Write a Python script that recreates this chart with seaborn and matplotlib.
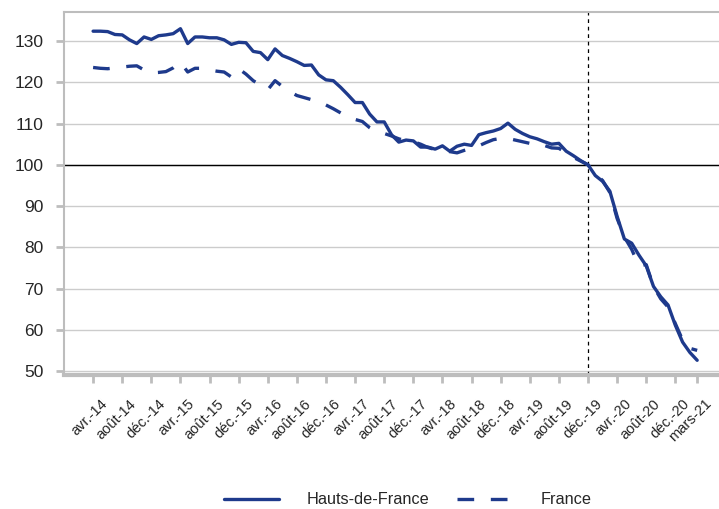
import pandas as pd
import seaborn as sns
import matplotlib.pyplot as plt
from matplotlib.transforms import ScaledTranslation

# Indices mensuels (base 100 = déc.-19), avr.-14 -> mars-21
mois_noms = ["janv.", "févr.", "mars", "avr.", "mai", "juin",
             "juil.", "août", "sept.", "oct.", "nov.", "déc."]

hdf = [132.4, 132.4, 132.3, 131.6, 131.5, 130.3, 129.4, 131.0, 130.4, 131.3,
       131.5, 131.8, 133.0, 129.4, 131.0, 131.0, 130.8, 130.8, 130.3, 129.2,
       129.7, 129.6, 127.5, 127.2, 125.5, 128.1, 126.5, 125.8, 125.0, 124.1,
       124.2, 121.8, 120.6, 120.4, 118.8, 117.0, 115.1, 115.1, 112.3, 110.4,
       110.4, 107.3, 105.5, 106.0, 105.8, 104.3, 104.3, 103.8, 104.6, 103.3,
       104.5, 105.0, 104.7, 107.3, 107.8, 108.2, 108.8, 110.1, 108.6, 107.6,
       106.8, 106.3, 105.6, 105.0, 105.2, 103.3, 102.2, 101.0, 100.0, 97.4,
       96.0, 93.6, 87.5, 82.0, 81.0, 78.1, 75.5, 70.5, 68.0, 66.0,
       61.1, 57.0, 54.5, 52.6]

france = [123.6, 123.4, 123.3, 123.5, 123.7, 123.9, 124.0, 123.0, 122.3, 122.4,
          122.6, 123.5, 124.9, 122.5, 123.4, 123.4, 123.0, 122.7, 122.5, 121.3,
          123.3, 122.0, 120.4, 119.3, 118.2, 120.4, 119.0, 117.8, 116.8, 116.3,
          115.8, 115.4, 114.5, 113.6, 112.6, 111.6, 111.0, 110.5, 109.0, 108.0,
          107.6, 107.0, 106.3, 105.8, 105.6, 105.0, 104.2, 103.7, 103.5, 103.2,
          102.9, 103.5, 104.0, 104.6, 105.4, 106.1, 106.4, 106.4, 106.0, 105.6,
          105.2, 105.4, 104.7, 104.1, 104.0, 102.9, 101.8, 100.9, 100.0, 97.8,
          96.2, 93.3, 87.0, 82.5, 79.5, 75.5, 75.8, 70.5, 67.5, 65.5,
          61.5, 57.5, 55.5, 55.0]

# étiquettes : mois (avril 2014 = index 0)
etiquettes = []
for i in range(len(hdf)):
    m = (3 + i) % 12
    a = 14 + (3 + i) // 12
    etiquettes.append(f"{mois_noms[m]}-{a}")

ticks = list(range(0, len(hdf), 4)) + [len(hdf) - 1]

df = pd.DataFrame({
    "mois": list(range(len(hdf))) * 2,
    "indice": hdf + france,
    "zone": ["Hauts-de-France"] * len(hdf) + ["France"] * len(france),
})

sns.set_style("white")
plt.rcParams["font.family"] = ["Liberation Sans", "DejaVu Sans"]

bleu = "#1e3a8c"
gris = "#bdbdbd"

fig = plt.figure(figsize=(7.19, 5.09), dpi=100)
ax = fig.add_axes([0.089, 0.263, 0.911, 0.713])

# lignes de référence
ax.axhline(100, color="black", lw=1.0, zorder=2)
ax.axvline(68, color="black", lw=0.9, ls=(0, (3, 3)), zorder=2)

sns.lineplot(data=df, x="mois", y="indice", hue="zone", style="zone",
             palette={"Hauts-de-France": bleu, "France": bleu},
             dashes={"Hauts-de-France": "", "France": (5, 5)},
             linewidth=2.4, ax=ax, zorder=3)

ax.set_xlim(-4, 86)
ax.set_ylim(49, 137)
ax.set_yticks(range(50, 131, 10))
ax.yaxis.grid(True, color="#cccccc", lw=1.0)
ax.set_axisbelow(True)

ax.set_xticks(ticks)
ax.set_xticklabels([etiquettes[t] for t in ticks], rotation=45, ha="right",
                   rotation_mode="anchor", fontsize=10.5)
ax.tick_params(axis="y", labelsize=12.5, length=6, width=2, color=gris,
               left=True, pad=8.5)
ax.tick_params(axis="x", length=6, width=2, color=gris, bottom=True, pad=9.5)
decal = ScaledTranslation(0.07, 0, fig.dpi_scale_trans)
for lab in ax.get_xticklabels():
    lab.set_transform(lab.get_transform() + decal)
ax.set_xlabel("")
ax.set_ylabel("")

for s in ["left", "top"]:
    ax.spines[s].set_color(gris)
    ax.spines[s].set_linewidth(1.5)
ax.spines["bottom"].set_color(gris)
ax.spines["bottom"].set_linewidth(3)
ax.spines["right"].set_visible(False)

handles, labels = ax.get_legend_handles_labels()
ax.legend_.remove()
fig.legend(handles, labels, loc="center", bbox_to_anchor=(0.567, 0.018),
           ncol=2, frameon=False, fontsize=11.7, handlelength=3.4,
           handletextpad=1.7, columnspacing=1.7)

fig.savefig("out.png", dpi=100)
